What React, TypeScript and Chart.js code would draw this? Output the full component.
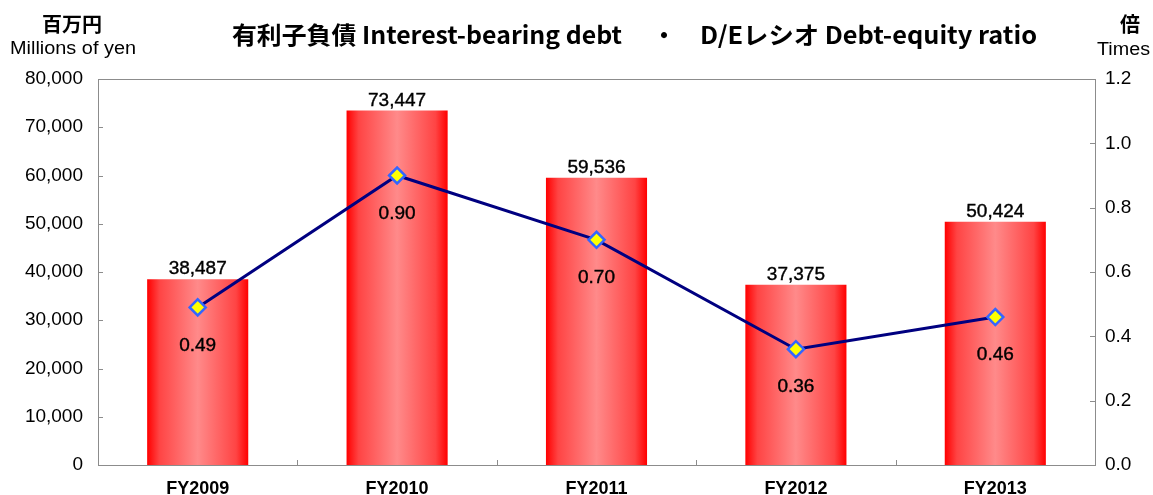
import React, { useEffect, useRef } from "react";
import { Chart, registerables } from "chart.js";

Chart.register(...registerables);

const categories = ["FY2009", "FY2010", "FY2011", "FY2012", "FY2013"];
const debtValues = [38487, 73447, 59536, 37375, 50424];
const deRatioValues = [0.49, 0.9, 0.7, 0.36, 0.46];

const titleLeft = "有利子負債 Interest-bearing debt";
const titleDot = "・";
const titleRight = "D/Eレシオ Debt-equity ratio";
const leftUnitJa = "百万円";
const leftUnitEn = "Millions of yen";
const rightUnitJa = "倍";
const rightUnitEn = "Times";

const LEFT_MAX = 80000;
const LEFT_STEP = 10000;
const RIGHT_MAX = 1.2;
const RIGHT_STEP = 0.2;

const numFont = '"Liberation Sans", Arial, sans-serif';
const jpFont = '"Noto Sans CJK JP", "Liberation Sans", sans-serif';

function fitText(ctx: CanvasRenderingContext2D, text: string, left: number, cy: number, width: number) {
  const w = ctx.measureText(text).width;
  const s = width / w;
  ctx.save();
  ctx.translate(left, cy);
  ctx.scale(s, 1);
  ctx.textAlign = "left";
  ctx.textBaseline = "middle";
  ctx.fillText(text, 0, 0);
  ctx.restore();
}

const decorPlugin = {
  id: "decor",
  afterDatasetsDraw(chart: any) {
    const ctx: CanvasRenderingContext2D = chart.ctx;
    const ca = chart.chartArea;
    const y = chart.scales.y;
    const y1 = chart.scales.y1;
    ctx.save();
    // border box
    ctx.strokeStyle = "#8c8c8c";
    ctx.lineWidth = 1;
    ctx.strokeRect(Math.round(ca.left) + 0.5, Math.round(ca.top) + 0.5, Math.round(ca.right - ca.left), Math.round(ca.bottom - ca.top));
    // tick marks inside
    ctx.beginPath();
    for (let v = 0; v <= LEFT_MAX; v += LEFT_STEP) {
      const py = Math.round(y.getPixelForValue(v)) + 0.5;
      ctx.moveTo(ca.left, py);
      ctx.lineTo(ca.left + 5, py);
    }
    for (let i = 0; i <= 6; i++) {
      const py = Math.round(y1.getPixelForValue(i * RIGHT_STEP)) + 0.5;
      ctx.moveTo(ca.right - 5, py);
      ctx.lineTo(ca.right, py);
    }
    const n = categories.length;
    for (let i = 1; i < n; i++) {
      const px = Math.round(ca.left + ((ca.right - ca.left) * i) / n) + 0.5;
      ctx.moveTo(px, ca.bottom);
      ctx.lineTo(px, ca.bottom - 5);
    }
    ctx.stroke();

    // bar value labels
    ctx.fillStyle = "#000";
    ctx.strokeStyle = "#000";
    ctx.lineWidth = 0.4;
    ctx.font = `19px ${numFont}`;
    ctx.textAlign = "center";
    ctx.textBaseline = "alphabetic";
    const barMeta = chart.getDatasetMeta(0);
    barMeta.data.forEach((el: any, i: number) => {
      const t = debtValues[i].toLocaleString("en-US");
      ctx.fillText(t, el.x, el.y - 5);
      ctx.strokeText(t, el.x, el.y - 5);
    });
    // ratio labels
    ctx.textBaseline = "middle";
    const lineMeta = chart.getDatasetMeta(1);
    lineMeta.data.forEach((el: any, i: number) => {
      const t = deRatioValues[i].toFixed(2);
      ctx.fillText(t, el.x, el.y + 38);
      ctx.strokeText(t, el.x, el.y + 38);
    });

    // titles
    ctx.font = `bold 24px ${jpFont}`;
    fitText(ctx, titleLeft, 232, 35, 390);
    ctx.textAlign = "center";
    ctx.textBaseline = "middle";
    ctx.fillText(titleDot, 664, 35);
    fitText(ctx, titleRight, 700, 35, 337);

    ctx.font = `bold 20px ${jpFont}`;
    ctx.textAlign = "center";
    ctx.fillText(leftUnitJa, 72, 24);
    ctx.fillText(rightUnitJa, 1130, 24);
    ctx.font = `18px ${numFont}`;
    fitText(ctx, leftUnitEn, 10, 49, 126);
    fitText(ctx, rightUnitEn, 1097, 50, 53);
    ctx.restore();
  },
};

export default function App() {
  const ref = useRef<HTMLCanvasElement | null>(null);
  useEffect(() => {
    document.body.style.margin = "0";
    if (!ref.current) return;
    const chart = new Chart(ref.current, {
      type: "bar",
      data: {
        labels: categories,
        datasets: [
          {
            type: "bar",
            data: debtValues,
            yAxisID: "y",
            order: 2,
            barPercentage: 0.507,
            categoryPercentage: 1,
            borderWidth: 0,
            backgroundColor: (c: any) => {
              const ch = c.chart;
              const ca = ch.chartArea;
              if (!ca || !ch.scales.x) return "#ff4040";
              const cx = ch.scales.x.getPixelForValue(c.dataIndex);
              const half = ((ca.right - ca.left) / categories.length) * 0.507 / 2;
              const g = ch.ctx.createLinearGradient(cx - half, 0, cx + half, 0);
              g.addColorStop(0, "#ff0000");
              g.addColorStop(0.12, "#ff4444");
              g.addColorStop(0.5, "#ff8a8a");
              g.addColorStop(0.88, "#ff4444");
              g.addColorStop(1, "#ff0000");
              return g;
            },
          },
          {
            type: "line",
            data: deRatioValues,
            yAxisID: "y1",
            order: 1,
            borderColor: "#000080",
            borderWidth: 3,
            pointStyle: "rectRot",
            pointRadius: 8,
            pointBackgroundColor: "#ffff00",
            pointBorderColor: "#3366ff",
            pointBorderWidth: 2.5,
            tension: 0,
          },
        ] as any,
      },
      options: {
        responsive: false,
        animation: false,
        devicePixelRatio: 1,
        layout: { padding: { top: 79, left: 0, right: 0, bottom: 0 } },
        plugins: { legend: { display: false }, tooltip: { enabled: false }, title: { display: false } },
        scales: {
          x: {
            position: "bottom",
            grid: { display: false, drawTicks: false },
            border: { display: false },
            ticks: { color: "#000", font: { family: numFont, size: 18, weight: "bold" }, padding: 13 },
            afterFit: (s: any) => { s.height = 30; },
          },
          y: {
            position: "left",
            min: 0,
            max: LEFT_MAX,
            grid: { display: false, drawTicks: false },
            border: { display: false },
            ticks: {
              stepSize: LEFT_STEP,
              color: "#000",
              font: { family: numFont, size: 19 },
              padding: 15,
              callback: (v: any) => Number(v).toLocaleString("en-US"),
            },
            afterFit: (s: any) => { s.width = 98; },
          },
          y1: {
            position: "right",
            min: 0,
            max: RIGHT_MAX,
            grid: { display: false, drawTicks: false },
            border: { display: false },
            ticks: {
              stepSize: RIGHT_STEP,
              color: "#000",
              font: { family: numFont, size: 19 },
              padding: 10,
              callback: (v: any) => Number(v).toFixed(1),
            },
            afterFit: (s: any) => { s.width = 58; },
          },
        },
      } as any,
      plugins: [decorPlugin],
    });
    return () => chart.destroy();
  }, []);
  return (
    <div style={{ width: 1153, height: 495 }}>
      <canvas ref={ref} width={1153} height={495} style={{ display: "block" }} />
    </div>
  );
}
